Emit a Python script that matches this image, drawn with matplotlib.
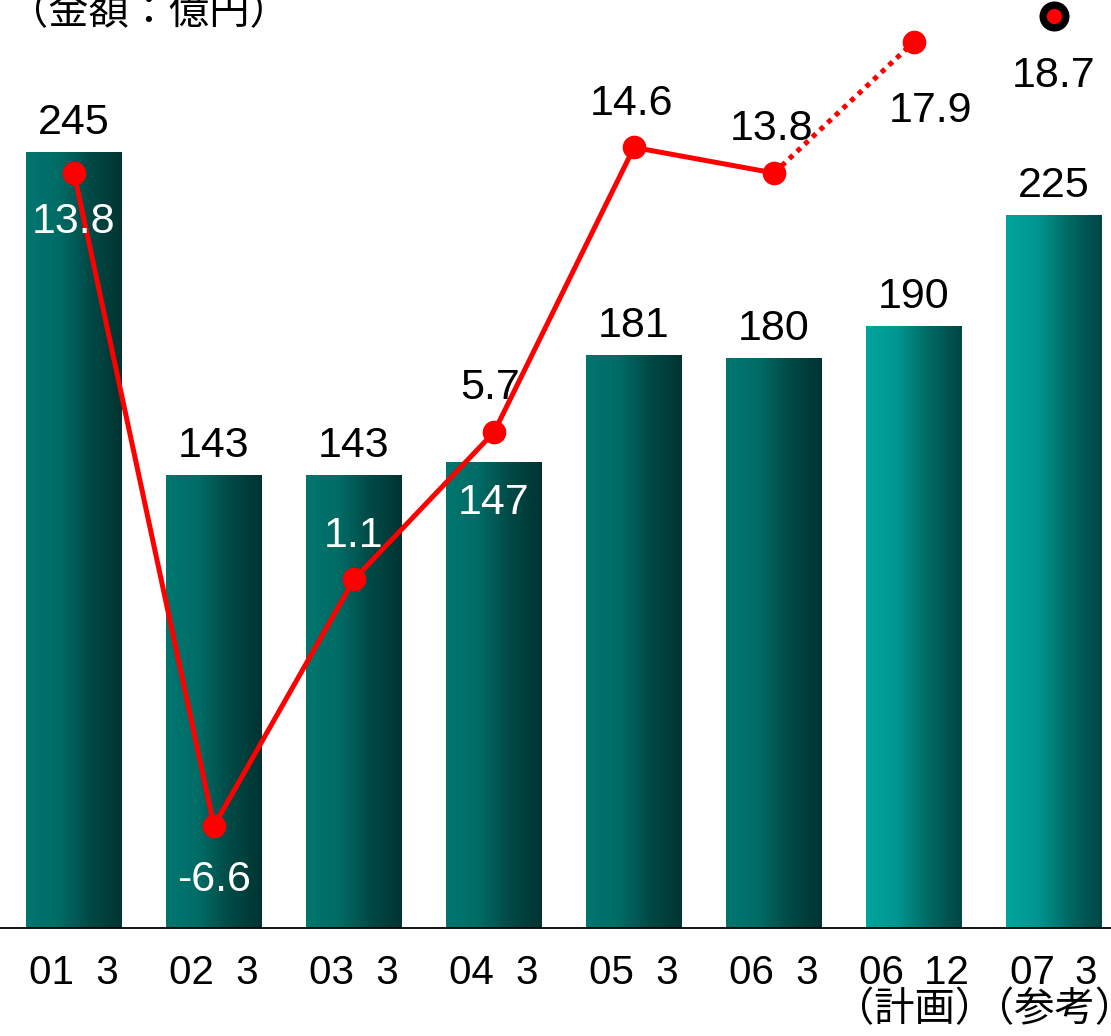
import numpy as np
import matplotlib.pyplot as plt
from matplotlib.colors import LinearSegmentedColormap

plt.rcParams['font.family'] = ['Liberation Sans', 'Noto Sans CJK JP', 'DejaVu Sans']

# data
periods = ['01  3', '02  3', '03  3', '04  3', '05  3', '06  3',
           '06\u200212\n（計画）', '07\u20023\n（参考）']
amounts = [245, 143, 143, 147, 181, 180, 190, 225]
ratios = [13.8, -6.6, 1.1, 5.7, 14.6, 13.8, 17.9, 18.7]
unit_label = '（金額：億円）'

W, H = 1111, 1036
fig = plt.figure(figsize=(W / 100, H / 100), dpi=100)
ax = fig.add_axes([0, 108 / H, 1, 928 / H])
ax2 = ax.twinx()

x = np.arange(len(amounts))
bw = 0.68
ax.set_xlim(-74 / 140, (W - 74) / 140)
ax.set_ylim(0, 928 / 3.167)
ax2.set_ylim((614.6 - 928) / 32.0, 614.6 / 32.0)

dark = LinearSegmentedColormap.from_list('d', ['#00766F', '#006C66', '#004A46', '#003331'])
light = LinearSegmentedColormap.from_list('l', ['#00A49D', '#00968F', '#006762', '#004643'])
grad = np.linspace(0, 1, 256).reshape(1, -1)

bars = ax.bar(x, amounts, width=bw, color='none', edgecolor='none', zorder=2)
for i, b in enumerate(bars):
    cmap = light if i >= 6 else dark
    im = ax.imshow(grad, cmap=cmap, aspect='auto', zorder=2,
                   extent=[b.get_x(), b.get_x() + b.get_width(), 0, b.get_height()])
    im.set_clip_path(b)

# bar value labels
for i, v in enumerate(amounts):
    if i == 3:
        ax.annotate(str(v), (x[i], v), xytext=(0, -29), textcoords='offset points',
                    ha='center', va='center', fontsize=31, color='white', zorder=5)
    else:
        ax.annotate(str(v), (x[i], v), xytext=(0, 21), textcoords='offset points',
                    ha='center', va='center', fontsize=31, color='black', zorder=5)

# ratio line
ax2.plot(x[:6], ratios[:6], color='#FF0000', lw=3.6, marker='o', ms=16, zorder=4)
ax2.plot(x[5:7], ratios[5:7], color='#FF0000', lw=3.6, ls=(0, (1, 1.1)),
         dash_capstyle='butt', zorder=4)
ax2.plot(x[6], ratios[6], color='#FF0000', marker='o', ms=16, zorder=4)
ax2.plot(x[7], ratios[7], color='#FF0000', marker='o', ms=16.3, mec='black', mew=5.3, zorder=4)

offsets = [(0, -35), (0, -39), (0, 31), (-3, 32), (-2, 31), (-2, 32), (12, -50), (0, -43)]
colors = ['white', 'white', 'white', 'black', 'black', 'black', 'black', 'black']
for i, r in enumerate(ratios):
    ax2.annotate(f'{r:.1f}', (x[i], r), xytext=offsets[i],
                 textcoords='offset points', ha='center', va='center',
                 fontsize=31, color=colors[i], zorder=6)

for a in (ax, ax2):
    for s in ['top', 'right', 'left']:
        a.spines[s].set_visible(False)
    a.set_yticks([])
ax2.spines['bottom'].set_visible(False)
ax.spines['bottom'].set_linewidth(1.3)
ax.set_xticks(x)
ax.set_xticklabels(periods, fontsize=29, linespacing=0.95, va='top')
ax.tick_params(axis='x', length=0, pad=19)

fig.text(8 / W, 1 - 24 / H, unit_label, fontsize=29, ha='left', va='baseline',
         family=['Noto Sans CJK JP', 'DejaVu Sans'])

fig.savefig('out.png', dpi=100)
